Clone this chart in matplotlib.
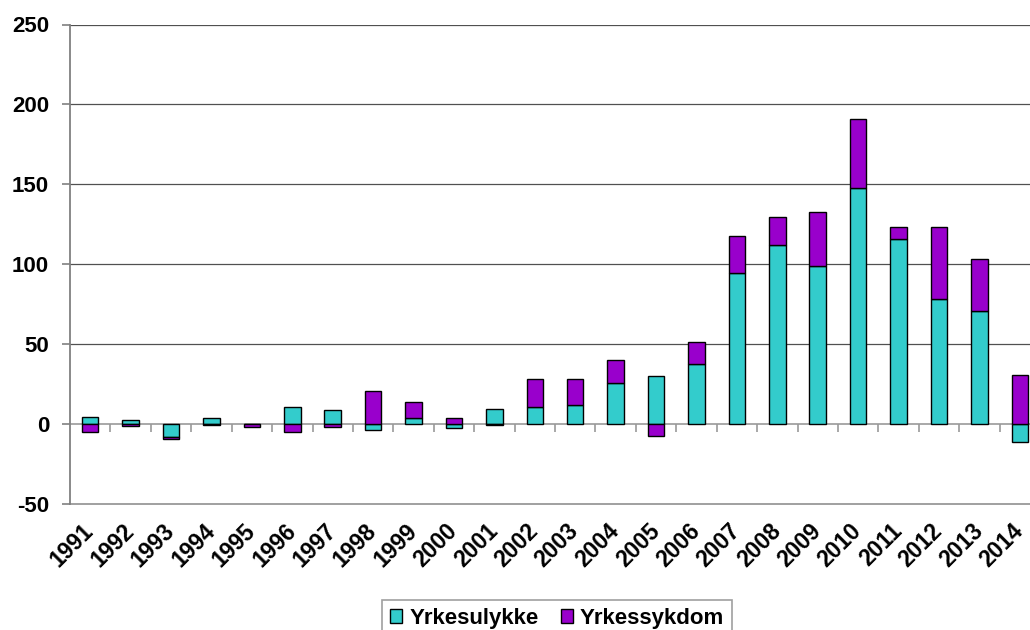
import matplotlib
matplotlib.use("Agg")
import matplotlib.pyplot as plt
from matplotlib.patches import Patch
import numpy as np

years = [str(y) for y in range(1991, 2015)]
yrkesulykke = [4.5, 2.5, -8, 4, 0, 11, 9, -4, 4, -2.5, 9.5, 11, 12, 26, 30, 37.5,
               94.5, 112, 99, 148, 115.5, 78, 71, -11.5]
yrkessykdom = [-5, -1.5, -1.5, -0.5, -2, -5, -2, 21, 10, 4, -0.5, 17, 16, 14, -7.5, 14,
               23, 17.5, 34, 43, 8, 45.5, 32, 30.5]
series_names = ["Yrkesulykke", "Yrkessykdom"]
colors = ["#33CCCC", "#9900CC"]
yticks = [-50, 0, 50, 100, 150, 200, 250]

plt.rcParams['font.family'] = ['Liberation Sans', 'DejaVu Sans']
plt.rcParams['font.weight'] = 'bold'

fig = plt.figure(figsize=(10.3, 6.3), dpi=100)
ax = fig.add_axes([70/1030, 1-504/630, 970/1030, (504-24.5)/630])

x = np.arange(len(years))
u = np.array(yrkesulykke, dtype=float)
s = np.array(yrkessykdom, dtype=float)
bottom_s = np.where(s >= 0, np.maximum(u, 0), np.minimum(u, 0))

w = 0.41
ax.bar(x, u, width=w, color=colors[0], edgecolor='black', linewidth=1.0, zorder=3)
ax.bar(x, s, width=w, bottom=bottom_s, color=colors[1], edgecolor='black', linewidth=1.0, zorder=3)

ax.set_xlim(-0.5, len(years) - 0.5)
ax.set_ylim(-50, 250)
ax.set_yticks(yticks)
ax.set_yticklabels([str(v) for v in yticks], fontsize=16, fontweight='bold')
for v in yticks[2:]:
    ax.axhline(v, color='#505050', linewidth=0.9, zorder=1)

# category axis at zero
ax.spines['bottom'].set_position(('data', 0))
ax.spines['bottom'].set_color('#999999')
ax.spines['bottom'].set_linewidth(1.2)
ax.spines['bottom'].set_zorder(2)
ax.set_xticks(x[:-1] + 0.5)
ax.set_xticklabels([])
ax.tick_params(axis='x', direction='out', length=6, width=1.2, color='#999999')
ax.spines['top'].set_visible(False)
ax.spines['right'].set_visible(False)
ax.spines['left'].set_color('#808080')
ax.spines['left'].set_linewidth(1.3)
ax.tick_params(axis='y', direction='out', length=6, width=1.2, color='#808080', pad=9)

# labels along the bottom of plot area
sec = ax.secondary_xaxis(0)
sec.spines['bottom'].set_color('#999999')
sec.spines['bottom'].set_linewidth(1.3)
sec.set_xticks(x)
sec.set_xticklabels(years, fontsize=16.5, fontweight='bold', rotation=45,
                    ha='right', va='center', rotation_mode='anchor')
sec.tick_params(axis='x', length=0, pad=17)

handles = [Patch(facecolor=c, edgecolor='black', linewidth=1.0) for c in colors]
leg = fig.legend(handles, series_names, loc='upper center',
                 bbox_to_anchor=(557/1030, 1-600/630), ncol=2,
                 prop={'size': 16, 'weight': 'bold'}, frameon=True, fancybox=False,
                 edgecolor='#888888', handlelength=0.55, handleheight=0.55,
                 handletextpad=0.3, columnspacing=1.0, borderpad=0.35,
                 borderaxespad=0)
leg.get_frame().set_linewidth(1.2)

fig.savefig("out.png", dpi=100, facecolor='white')
